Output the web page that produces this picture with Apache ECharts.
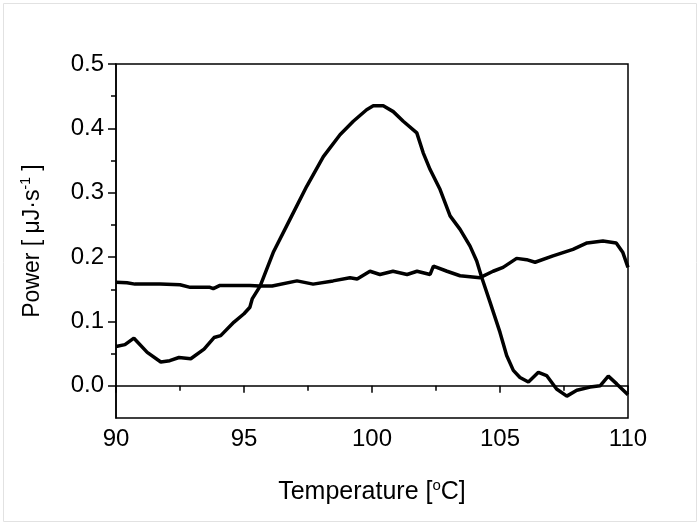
<!DOCTYPE html>
<html>
<head>
<meta charset="utf-8">
<script src="https://cdn.jsdelivr.net/npm/echarts@6/dist/echarts.min.js"></script>
<style>html,body{margin:0;padding:0;background:#fff}#c{width:700px;height:525px}</style>
</head>
<body>
<div id="c"></div>
<script>
// Curve with the peak (Temperature °C, Power µJ/s)
var peakT = [90.0,90.35,90.70,91.22,91.75,92.1,92.46,92.92,93.44,93.83,94.09,94.61,95.0,95.23,95.32,95.63,96.14,96.80,97.45,98.10,98.75,99.27,99.79,100.05,100.44,100.83,101.22,101.75,102.0,102.27,102.66,103.05,103.44,103.83,104.09,104.29,104.61,105.0,105.26,105.52,105.78,106.11,106.50,106.82,107.21,107.61,108.0,108.52,108.91,109.23,109.56,110.0];
var peakP = [0.061,0.064,0.074,0.052,0.037,0.039,0.044,0.042,0.057,0.075,0.078,0.099,0.112,0.122,0.135,0.155,0.207,0.259,0.310,0.356,0.390,0.411,0.429,0.435,0.435,0.426,0.411,0.393,0.362,0.336,0.305,0.264,0.243,0.217,0.194,0.168,0.130,0.083,0.047,0.024,0.013,0.006,0.021,0.016,-0.005,-0.016,-0.007,-0.002,0.000,0.015,0.003,-0.014];
// Flat baseline curve
var baseT = [90.0,90.43,90.74,91.72,92.5,92.9,93.67,93.8,94.06,95.23,95.6,96.1,97.07,97.7,98.48,99.14,99.42,99.92,100.31,100.82,101.37,101.76,102.27,102.4,102.93,103.44,104.22,104.73,105.12,105.65,106.04,106.37,107.07,107.85,108.4,109.02,109.54,109.8,110.0];
var baseP = [0.161,0.160,0.158,0.158,0.157,0.153,0.153,0.151,0.156,0.156,0.155,0.155,0.163,0.158,0.163,0.168,0.166,0.178,0.173,0.178,0.173,0.178,0.173,0.186,0.178,0.171,0.168,0.178,0.184,0.198,0.196,0.192,0.202,0.212,0.222,0.225,0.222,0.207,0.184];
var yMajor = [0,0.1,0.2,0.3,0.4,0.5];
var yMinor = [0.05,0.15,0.25,0.35,0.45];

function pairs(xs, ys){ return xs.map(function(x,i){ return [x, ys[i]]; }); }

var font = 'Liberation Sans, Arial, sans-serif';
var chart = echarts.init(document.getElementById('c'), null, {renderer:'canvas'});
chart.setOption({
  backgroundColor: '#fff',
  animation: false,
  graphic: [{type:'rect', shape:{x:3.5,y:3.5,width:693,height:518}, style:{fill:'none', stroke:'#e2e2e2', lineWidth:1}, silent:true}],
  grid: {left:116, right:72, top:64, bottom:107, show:true, borderColor:'#000', borderWidth:1.5, backgroundColor:'transparent'},
  xAxis: {
    type:'value', min:90, max:110, interval:5,
    axisLine:{show:true, lineStyle:{color:'#000', width:1.5}},
    axisTick:{show:true, length:7, lineStyle:{color:'#000', width:1.5}},
    minorTick:{show:true, splitNumber:2, length:5, lineStyle:{color:'#000', width:1.5}},
    splitLine:{show:false},
    axisLabel:{color:'#000', fontSize:24, fontFamily:font, margin:9},
    name:'Temperature [{s|o}C]', nameLocation:'middle', nameGap:60,
    nameTextStyle:{color:'#000', fontSize:25, fontFamily:font,
      rich:{s:{fontSize:15, fontFamily:font, color:'#000', verticalAlign:'top', lineHeight:28}}}
  },
  yAxis: [{
    type:'value', min:-0.05, max:0.5,
    axisLine:{show:true, lineStyle:{color:'#000', width:1.5}},
    axisTick:{show:true, length:8, customValues:yMajor, lineStyle:{color:'#000', width:1.5}},
    splitLine:{show:false},
    axisLabel:{color:'#000', fontSize:24, fontFamily:font, margin:12, customValues:yMajor,
      formatter:function(v){ return v.toFixed(1); }},
    name:'Power [ μJ·s{s|-1} ]', nameLocation:'middle', nameGap:70, nameRotate:90,
    nameTextStyle:{color:'#000', fontSize:23, fontFamily:font,
      rich:{s:{fontSize:14, fontFamily:font, color:'#000', verticalAlign:'top', lineHeight:27}}}
  },{
    type:'value', min:-0.05, max:0.5, position:'left',
    axisLine:{show:false},
    axisTick:{show:true, length:5, customValues:yMinor, lineStyle:{color:'#000', width:1.5}},
    axisLabel:{show:false},
    splitLine:{show:false}
  }],
  series: [
    {type:'line', data:pairs(peakT, peakP), showSymbol:false, symbol:'none', lineStyle:{color:'#000', width:3.5}, z:3},
    {type:'line', data:pairs(baseT, baseP), showSymbol:false, symbol:'none', lineStyle:{color:'#000', width:3.5}, z:3}
  ]
});
</script>
</body>
</html>
